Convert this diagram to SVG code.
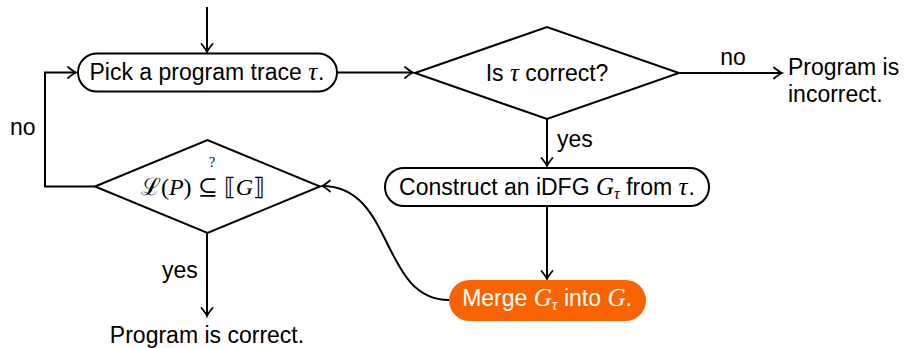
<svg xmlns="http://www.w3.org/2000/svg" width="909" height="348" viewBox="0 0 909 348">
<defs>
<marker id="arr" markerUnits="userSpaceOnUse" markerWidth="14" markerHeight="14" viewBox="-10 -7 12 14" refX="0" refY="0" orient="auto" overflow="visible">
<path d="M-8,-5.5 Q-2.5,-1 0,0 Q-2.5,1 -8,5.5" fill="none" stroke="#000" stroke-width="1.8" stroke-linecap="round"/>
</marker>
<style>
.n{fill:#fff;stroke:#000;stroke-width:2}
.t{font-family:"Liberation Sans",Arial,sans-serif;font-size:23px;fill:#000}
.m{font-family:"Liberation Serif","DejaVu Serif",serif;font-style:italic;font-size:25px}
.s{font-family:"Liberation Serif","DejaVu Serif",serif;font-style:italic;font-size:16px}
.e{fill:none;stroke:#000;stroke-width:2}
</style>
</defs>
<rect width="909" height="348" fill="#fff"/>
<g id="connectors">
<path class="e" d="M207,7 V52" marker-end="url(#arr)"/>
<path class="e" d="M337,72.5 H413" marker-end="url(#arr)"/>
<path class="e" d="M680,73 H782" marker-end="url(#arr)"/>
<path class="e" d="M547,119 V166" marker-end="url(#arr)"/>
<path class="e" d="M547,206 V279" marker-end="url(#arr)"/>
<path class="e" d="M449,300 C380,300 395,186 322,186" marker-end="url(#arr)"/>
<path class="e" d="M95,186.5 H45 V72.5 H76" marker-end="url(#arr)"/>
<path class="e" d="M207,233 V316" marker-end="url(#arr)"/>
<text class="t" x="733" y="65" text-anchor="middle">no</text>
<text class="t" x="557" y="147">yes</text>
<text class="t" x="10" y="135">no</text>
<text class="t" x="162" y="278">yes</text>
</g>
<g id="pick">
<rect class="n" x="78" y="53.5" width="259" height="38" rx="19" ry="19"/>
<text class="t" x="207" y="80" text-anchor="middle">Pick a program trace <tspan class="m">τ</tspan><tspan dx="1">.</tspan></text>
</g>
<g id="check">
<polygon class="n" points="415,73 547,27 679,73 547,119"/>
<text class="t" x="547" y="81" text-anchor="middle">Is <tspan class="m">τ</tspan> correct?</text>
</g>
<g id="incorrect">
<text class="t" x="788" y="75">Program is</text>
<text class="t" x="788" y="102">incorrect.</text>
</g>
<g id="construct">
<rect class="n" x="385" y="168" width="324" height="38" rx="19" ry="19"/>
<text class="t" x="547" y="195" text-anchor="middle">Construct an iDFG <tspan class="m">G</tspan><tspan class="s" dy="4">τ</tspan><tspan dy="-4"> from </tspan><tspan class="m">τ</tspan><tspan dx="1">.</tspan></text>
</g>
<g id="merge">
<rect x="449" y="280" width="197" height="41" rx="20.5" ry="20.5" fill="#FA6400"/>
<text class="t" x="547" y="306" text-anchor="middle" style="fill:#fff">Merge <tspan class="m">G</tspan><tspan class="s" dy="4">τ</tspan><tspan dy="-4"> into </tspan><tspan class="m">G</tspan>.</text>
</g>
<g id="inclusion">
<polygon class="n" points="95,186.5 207.5,140 320,186.5 207.5,233"/>
<text x="203" y="195" text-anchor="middle" font-family="'Liberation Serif','DejaVu Serif',serif" font-size="24">ℒ(<tspan font-style="italic">P</tspan>) ⊆ ⟦<tspan font-style="italic">G</tspan>⟧</text>
<text x="212" y="167" text-anchor="middle" font-family="'Liberation Serif','DejaVu Serif',serif" font-size="14">?</text>
</g>
<g id="correct">
<text class="t" x="207" y="343" text-anchor="middle">Program is correct.</text>
</g>
</svg>
